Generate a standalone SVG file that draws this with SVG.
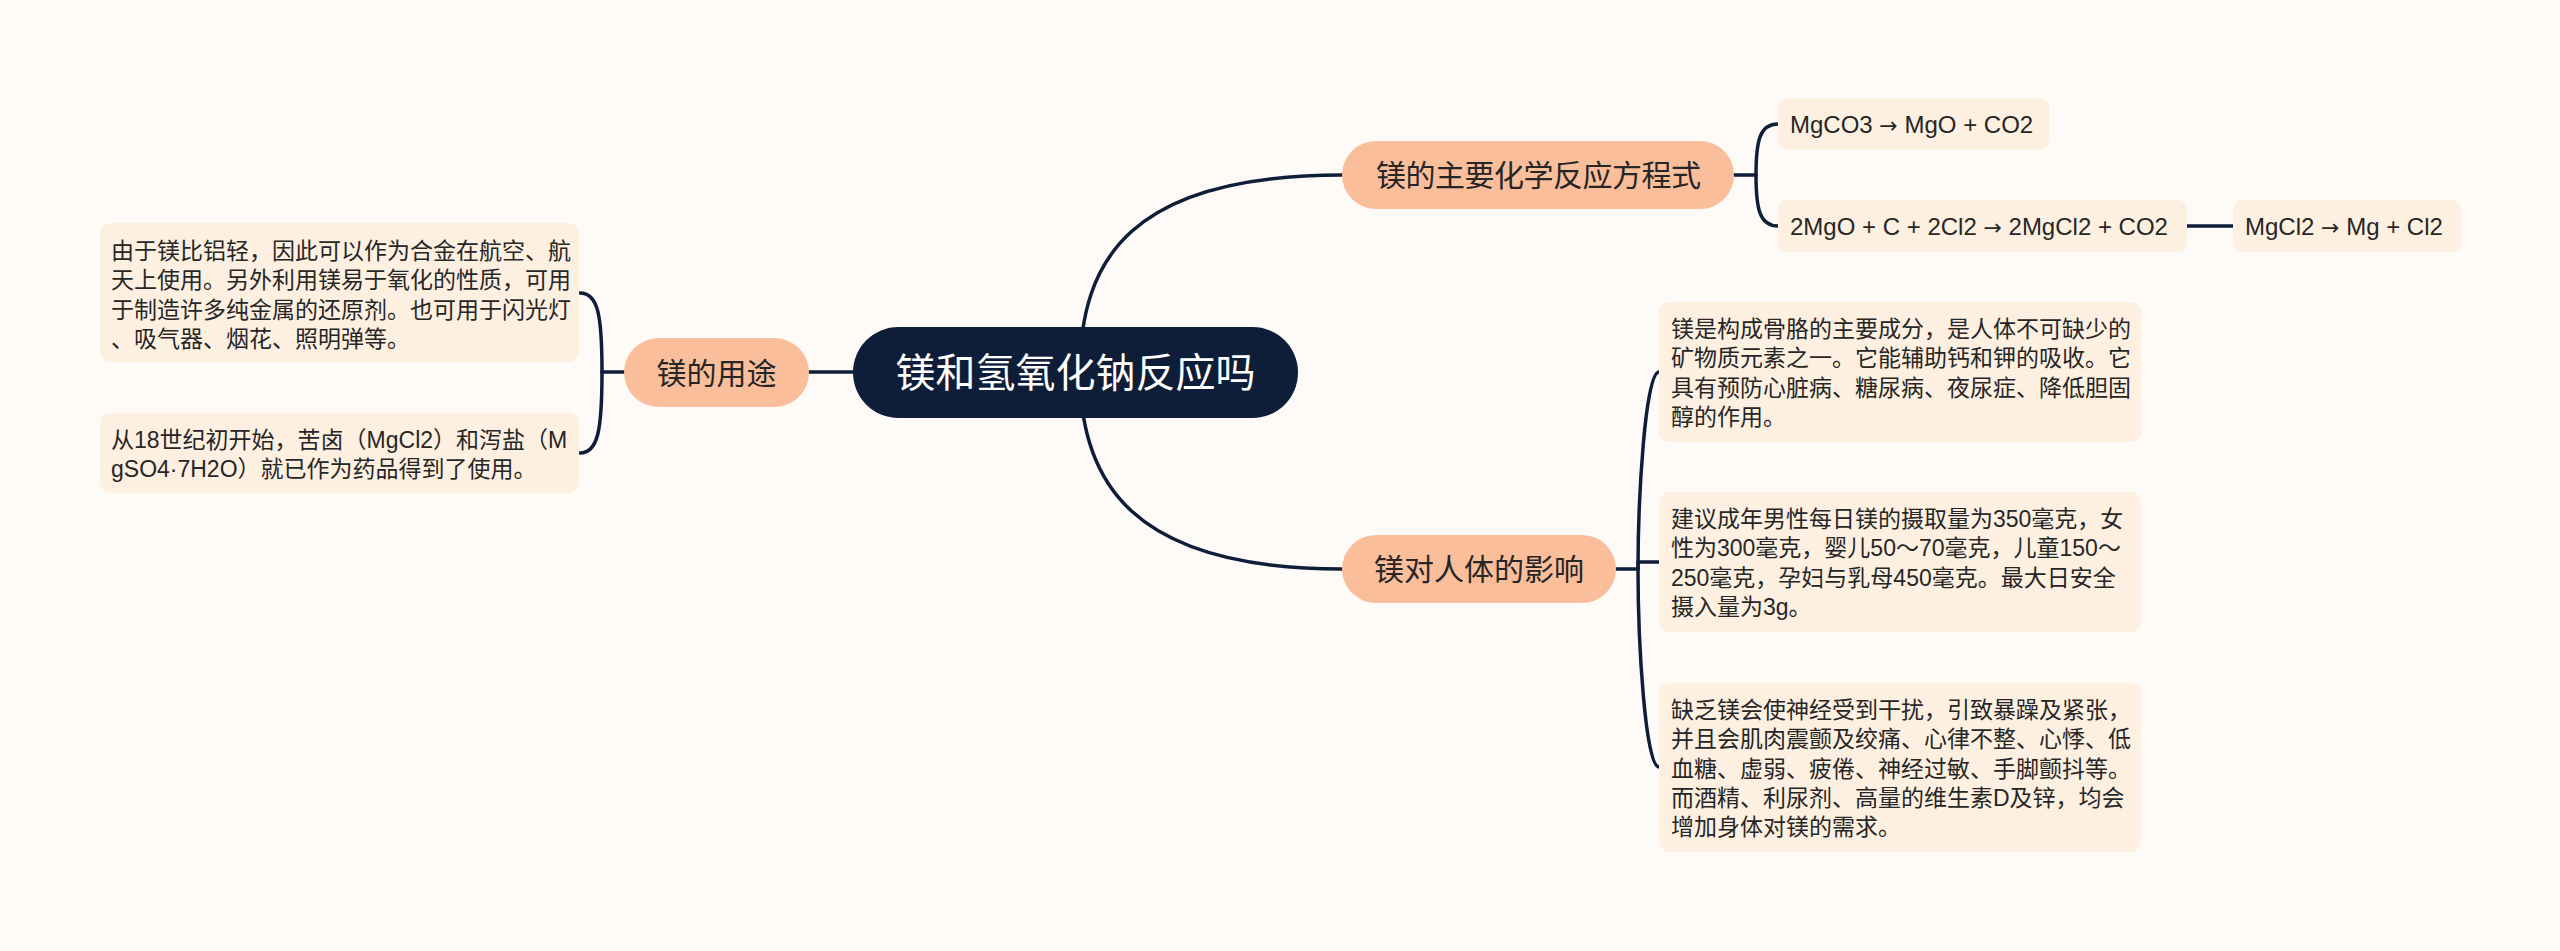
<svg xmlns="http://www.w3.org/2000/svg" width="2560" height="951" viewBox="0 0 2560 951">
<style>
.bg{fill:#fdfaf8}
.line{fill:none;stroke:#0f1e38;stroke-width:3.5;stroke-linecap:round;stroke-linejoin:round}
.root{fill:#0f1e38}
.main{fill:#fbbe9b}
.leaf{fill:#fdf0e1}
.t-root{font-family:"Noto Sans CJK SC","Noto Sans",sans-serif;font-size:40px;fill:#ffffff}
.t-main{font-family:"Noto Sans CJK SC","Noto Sans",sans-serif;font-size:30px;fill:#262626}
.t-leaf{font-family:"Liberation Sans","Noto Sans CJK SC",sans-serif;font-size:23px;fill:#262626}
.t-chem{font-family:"Liberation Sans","Noto Sans CJK SC",sans-serif;font-size:24px;fill:#262626}
.arr{font-family:"DejaVu Sans",sans-serif;font-size:22px}
</style>
<rect class="bg" x="0" y="0" width="2560" height="951"/>
<g id="connectors">
<path class="line" d="M1080 372 C1080 260 1130 175 1342 175"/>
<path class="line" d="M1080 372 C1080 480 1130 569 1342 569"/>
<path class="line" d="M860 372 H809"/>
<path class="line" d="M624 372 H602"/>
<path class="line" d="M602 372 C602 315 598 293 580 293"/>
<path class="line" d="M602 372 C602 430 598 453 580 453"/>
<path class="line" d="M1734 175 H1756"/>
<path class="line" d="M1756 175 C1756 140 1760 124 1778 124"/>
<path class="line" d="M1756 175 C1756 210 1760 226 1778 226"/>
<path class="line" d="M2187 226 H2233"/>
<path class="line" d="M1616 569 H1638"/>
<path class="line" d="M1638 569 C1638 500 1645 372 1659 372"/>
<path class="line" d="M1638 569 V562 H1659"/>
<path class="line" d="M1638 569 C1638 640 1645 767 1659 767"/>
</g>
<g id="root">
<rect class="root" x="853" y="327" width="445" height="91" rx="45.5"/>
<text class="t-root" x="1075.5" y="387" text-anchor="middle">镁和氢氧化钠反应吗</text>
</g>
<g id="node-reactions">
<rect class="main" x="1342" y="141" width="392" height="68" rx="34"/>
<text class="t-main" x="1376" y="186" textLength="325" lengthAdjust="spacing">镁的主要化学反应方程式</text>
</g>
<g id="node-uses">
<rect class="main" x="624" y="338" width="185" height="69" rx="34.5"/>
<text class="t-main" x="716.5" y="384" text-anchor="middle">镁的用途</text>
</g>
<g id="node-effects">
<rect class="main" x="1342" y="535" width="274" height="68" rx="34"/>
<text class="t-main" x="1479" y="580" text-anchor="middle">镁对人体的影响</text>
</g>
<g id="leaf-uses-1">
<rect class="leaf" x="100" y="223" width="479" height="139" rx="10"/>
<text class="t-leaf"><tspan x="111" y="259">由于镁比铝轻，因此可以作为合金在航空、航</tspan><tspan x="111" y="288.3">天上使用。另外利用镁易于氧化的性质，可用</tspan><tspan x="111" y="317.6">于制造许多纯金属的还原剂。也可用于闪光灯</tspan><tspan x="111" y="346.9">、吸气器、烟花、照明弹等。</tspan></text>
</g>
<g id="leaf-uses-2">
<rect class="leaf" x="100" y="413" width="479" height="80" rx="10"/>
<text class="t-leaf"><tspan x="111" y="448">从18世纪初开始，苦卤（MgCl2）和泻盐（M</tspan><tspan x="111" y="477.3">gSO4·7H2O）就已作为药品得到了使用。</tspan></text>
</g>
<g id="leaf-chem-1">
<rect class="leaf" x="1778" y="98" width="271" height="52" rx="9"/>
<text class="t-chem" x="1790" y="132.5">MgCO3 <tspan class="arr">→</tspan> MgO + CO2</text>
</g>
<g id="leaf-chem-2">
<rect class="leaf" x="1778" y="200" width="409" height="52" rx="9"/>
<text class="t-chem" x="1790" y="234.5">2MgO + C + 2Cl2 <tspan class="arr">→</tspan> 2MgCl2 + CO2</text>
</g>
<g id="leaf-chem-3">
<rect class="leaf" x="2233" y="200" width="228" height="52" rx="9"/>
<text class="t-chem" x="2245" y="234.5">MgCl2 <tspan class="arr">→</tspan> Mg + Cl2</text>
</g>
<g id="leaf-effects-1">
<rect class="leaf" x="1659" y="302" width="482" height="140" rx="10"/>
<text class="t-leaf"><tspan x="1671" y="337">镁是构成骨胳的主要成分，是人体不可缺少的</tspan><tspan x="1671" y="366.3">矿物质元素之一。它能辅助钙和钾的吸收。它</tspan><tspan x="1671" y="395.6">具有预防心脏病、糖尿病、夜尿症、降低胆固</tspan><tspan x="1671" y="424.9">醇的作用。</tspan></text>
</g>
<g id="leaf-effects-2">
<rect class="leaf" x="1659" y="492" width="482" height="140" rx="10"/>
<text class="t-leaf"><tspan x="1671" y="527">建议成年男性每日镁的摄取量为350毫克，女</tspan><tspan x="1671" y="556.3">性为300毫克，婴儿50～70毫克，儿童150～</tspan><tspan x="1671" y="585.6">250毫克，孕妇与乳母450毫克。最大日安全</tspan><tspan x="1671" y="614.9">摄入量为3g。</tspan></text>
</g>
<g id="leaf-effects-3">
<rect class="leaf" x="1659" y="683" width="482" height="169" rx="10"/>
<text class="t-leaf"><tspan x="1671" y="718">缺乏镁会使神经受到干扰，引致暴躁及紧张，</tspan><tspan x="1671" y="747.3">并且会肌肉震颤及绞痛、心律不整、心悸、低</tspan><tspan x="1671" y="776.6">血糖、虚弱、疲倦、神经过敏、手脚颤抖等。</tspan><tspan x="1671" y="805.9">而酒精、利尿剂、高量的维生素D及锌，均会</tspan><tspan x="1671" y="835.2">增加身体对镁的需求。</tspan></text>
</g>
</svg>
